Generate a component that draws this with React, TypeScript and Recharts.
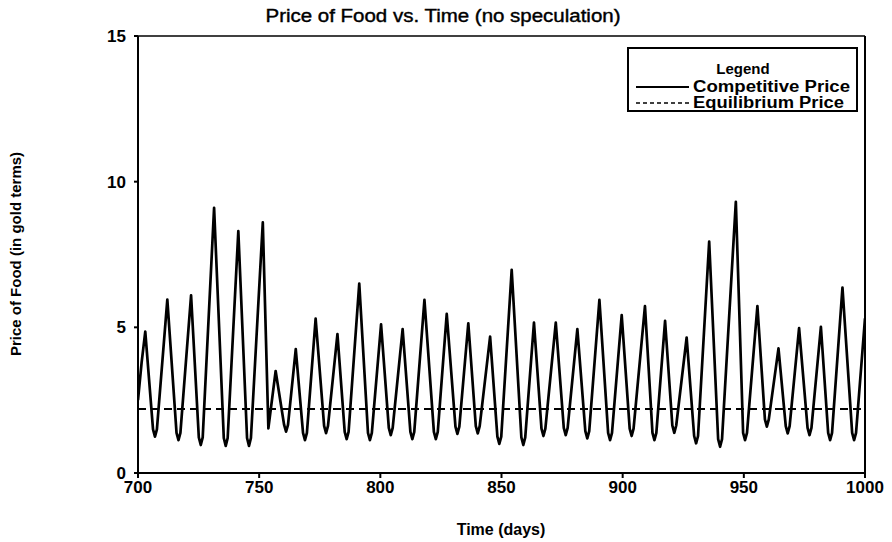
import React from 'react';
import { LineChart, Line, XAxis, YAxis, ReferenceLine } from 'recharts';

const TITLE = 'Price of Food vs. Time (no speculation)';
const X_LABEL = 'Time (days)';
const Y_LABEL = 'Price of Food (in gold terms)';
const LEGEND_TITLE = 'Legend';
const SERIES_NAMES = ['Competitive Price', 'Equilibrium Price'];
const X_TICKS = [700, 750, 800, 850, 900, 950, 1000];
const Y_TICKS = [0, 5, 10, 15];
const EQUILIBRIUM_PRICE = 2.2;

const DAYS = [
  700, 701.5, 703, 706.2, 707, 707.8, 712.1, 715.9, 716.7, 717.5, 721.9, 725.1, 725.9, 726.7,
  731.4, 735.4, 736.2, 737, 741.4, 745, 745.8, 746.6, 751.5, 753.8, 756.8, 760.3, 761.1, 761.9,
  765.1, 768.1, 768.9, 769.7, 773.3, 776.8, 777.6, 778.4, 782.3, 785.3, 786.1, 786.9, 791.3,
  794.9, 795.7, 796.5, 800.3, 803.5, 804.3, 805.1, 809.2, 812.4, 813.2, 814, 818.2, 822.1, 822.9,
  823.7, 827.4, 831, 831.8, 832.6, 836.3, 839.4, 840.2, 841, 845.3, 848.3, 849.1, 849.9, 854.2,
  858.2, 859, 859.8, 863.4, 866.5, 867.3, 868.1, 872.4, 875.7, 876.5, 877.3, 881.3, 884.6, 885.4,
  886.2, 890.4, 894, 894.8, 895.6, 899.6, 902.9, 903.7, 904.5, 909.2, 912.3, 913.1, 913.9, 917.5,
  920.5, 921.3, 922.1, 926.4, 929.5, 930.3, 931.1, 935.7, 939.4, 940.2, 941, 946.7, 949.7, 950.5,
  951.3, 955.6, 958.7, 959.5, 960.3, 964.3, 967.3, 968.1, 968.9, 972.8, 976.3, 977.1, 977.9,
  981.8, 984.8, 985.6, 986.4, 990.7, 994.7, 995.5, 996.3, 1000,
];

const PRICES = [
  2.5, 3.8, 4.85, 1.5, 1.25, 1.5, 5.95, 1.38, 1.13, 1.38, 6.1, 1.22, 0.96, 1.22,
  9.1, 1.2, 0.93, 1.2, 8.3, 1.2, 0.93, 1.2, 8.6, 1.53, 3.5, 1.65, 1.42, 1.65,
  4.25, 1.38, 1.13, 1.38, 5.3, 1.62, 1.37, 1.62, 4.77, 1.41, 1.16, 1.41, 6.5,
  1.38, 1.13, 1.38, 5.1, 1.55, 1.3, 1.55, 4.94, 1.41, 1.16, 1.41, 5.94, 1.41, 1.16,
  1.41, 5.46, 1.59, 1.34, 1.59, 5.14, 1.61, 1.36, 1.61, 4.68, 1.25, 1.0, 1.25, 6.97,
  1.22, 0.96, 1.22, 5.16, 1.52, 1.27, 1.52, 5.16, 1.55, 1.3, 1.55, 4.94, 1.44, 1.19,
  1.44, 5.94, 1.38, 1.13, 1.38, 5.42, 1.52, 1.27, 1.52, 5.73, 1.38, 1.13, 1.38, 5.22,
  1.63, 1.38, 1.63, 4.65, 1.27, 1.02, 1.27, 7.94, 1.16, 0.9, 1.16, 9.31, 1.38, 1.13,
  1.38, 5.73, 1.84, 1.59, 1.84, 4.28, 1.61, 1.36, 1.61, 4.97, 1.55, 1.3, 1.55,
  5.02, 1.38, 1.13, 1.38, 6.36, 1.38, 1.13, 1.38, 5.31,
];

const data = DAYS.map((day, i) => ({ day, price: PRICES[i] }));

const FONT = '"Liberation Sans", Arial, Helvetica, sans-serif';

export default function App() {
  return (
    <div style={{ position: 'absolute', left: 0, top: 0, width: 892, height: 542, background: '#fff', fontFamily: FONT }}>
      <LineChart
        width={892}
        height={542}
        data={data}
        margin={{ top: 36, right: 27, bottom: 39, left: 98 }}
      >
        <XAxis
          dataKey="day"
          type="number"
          domain={[700, 1000]}
          ticks={X_TICKS}
          allowDataOverflow
          height={30}
          tickSize={5}
          tickMargin={3}
          stroke="#000"
          strokeWidth={2}
          tick={{ fill: '#000', fontSize: 17, fontWeight: 'bold', fontFamily: FONT }}
        />
        <YAxis
          type="number"
          domain={[0, 15]}
          ticks={Y_TICKS}
          allowDataOverflow
          width={40}
          tickSize={4}
          tickMargin={8}
          stroke="#000"
          strokeWidth={2}
          tick={{ fill: '#000', fontSize: 17, fontWeight: 'bold', fontFamily: FONT }}
        />
        <ReferenceLine y={15} stroke="#000" strokeWidth={1.5} ifOverflow="visible" />
        <ReferenceLine x={1000} stroke="#000" strokeWidth={2} ifOverflow="visible" />
        <ReferenceLine
          y={EQUILIBRIUM_PRICE}
          stroke="#000"
          strokeWidth={2}
          strokeDasharray="8 5"
          ifOverflow="visible"
        />
        <Line
          type="linear"
          dataKey="price"
          stroke="#000"
          strokeWidth={2.7}
          strokeLinejoin="round"
          dot={false}
          isAnimationActive={false}
        />
      </LineChart>
      <svg
        width={892}
        height={542}
        style={{ position: 'absolute', left: 0, top: 0, pointerEvents: 'none' }}
      >
        <text
          x={443}
          y={22}
          textAnchor="middle"
          fontSize={18}
          fontFamily={FONT}
          fill="#000"
          stroke="#000"
          strokeWidth={0.4}
          textLength={355}
          lengthAdjust="spacingAndGlyphs"
        >
          {TITLE}
        </text>
        <text x={501} y={535} textAnchor="middle" fontSize={16} fontWeight="bold" fontFamily={FONT} fill="#000">
          {X_LABEL}
        </text>
        <text
          x={21}
          y={254}
          textAnchor="middle"
          fontSize={15}
          fontWeight="bold"
          fontFamily={FONT}
          fill="#000"
          transform="rotate(-90 21 254)"
        >
          {Y_LABEL}
        </text>
        <rect x={628} y={48} width={229} height={63} fill="#fff" stroke="#000" strokeWidth={2} />
        <text x={743} y={74} textAnchor="middle" fontSize={15} fontWeight="bold" fontFamily={FONT} fill="#000">
          {LEGEND_TITLE}
        </text>
        <line x1={636} y1={87} x2={689} y2={87} stroke="#000" strokeWidth={2} />
        <text
          x={693}
          y={92}
          fontSize={16}
          fontWeight="bold"
          fontFamily={FONT}
          fill="#000"
          textLength={157}
          lengthAdjust="spacingAndGlyphs"
        >
          {SERIES_NAMES[0]}
        </text>
        <line x1={636} y1={103} x2={689} y2={103} stroke="#000" strokeWidth={1.5} strokeDasharray="4 3" />
        <text
          x={693}
          y={108}
          fontSize={16}
          fontWeight="bold"
          fontFamily={FONT}
          fill="#000"
          textLength={151}
          lengthAdjust="spacingAndGlyphs"
        >
          {SERIES_NAMES[1]}
        </text>
      </svg>
    </div>
  );
}
